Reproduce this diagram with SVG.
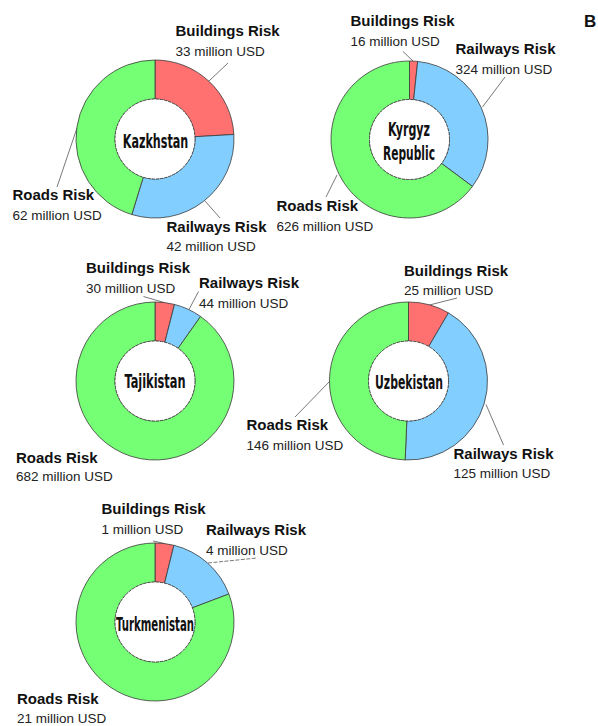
<svg xmlns="http://www.w3.org/2000/svg" width="598" height="726" viewBox="0 0 598 726">
<style>
.bg{fill:#ffffff}
.b{fill:#FF7070}
.r{fill:#82CFFF}
.g{fill:#74FF74}
.seg{stroke:#3a3a3a;stroke-width:0.8}
.hole{fill:#ffffff;stroke:#3a3a3a;stroke-width:0.8;stroke-dasharray:3 1.2}
.lead{stroke:#555;stroke-width:0.8;fill:none}
.lbl{font-family:"Liberation Sans",Arial,sans-serif;font-weight:bold;font-size:15px;fill:#111}
.val{font-family:"Liberation Sans",Arial,sans-serif;font-size:13.5px;fill:#222}
.cty{font-family:"Liberation Sans Narrow","DejaVu Sans Condensed","Liberation Sans",sans-serif;font-weight:bold;font-size:19px;fill:#111;text-anchor:middle}
</style>
<rect class="bg" x="0" y="0" width="598" height="726"/>
<text x="584" y="26.5" font-family="Liberation Sans, Arial, sans-serif" font-weight="bold" font-size="17" fill="#111">B</text>

<g id="connectors">
  <line class="lead" x1="209" y1="81" x2="228" y2="63"/>
  <line class="lead" x1="205" y1="201" x2="220" y2="218"/>
  <line class="lead" x1="77" y1="128" x2="57" y2="187"/>
  <line class="lead" x1="413.5" y1="61.5" x2="403" y2="51.5"/>
  <line class="lead" x1="482.5" y1="107" x2="505" y2="77"/>
  <line class="lead" x1="337" y1="175" x2="326" y2="197"/>
  <line class="lead" x1="164" y1="302.5" x2="143.5" y2="296.5"/>
  <line class="lead" x1="189" y1="309.5" x2="198.5" y2="291.5"/>
  <line class="lead" x1="429.5" y1="305" x2="457" y2="298"/>
  <line class="lead" x1="486" y1="404.5" x2="503.5" y2="445"/>
  <line class="lead" x1="330" y1="381" x2="295" y2="417"/>
  <line class="lead" x1="164.5" y1="543.5" x2="153" y2="541"/>
  <line class="lead" x1="208" y1="563" x2="257" y2="558" stroke-dasharray="4 1.5"/>
</g>

<g id="kazakhstan">
  <path class="b seg" d="M155,60 A79,79 0 0 1 233.87,134.48 L194.93,136.71 A40,40 0 0 0 155,99 Z"/>
  <path class="r seg" d="M233.87,134.48 A79,79 0 0 1 131.80,214.52 L143.25,177.24 A40,40 0 0 0 194.93,136.71 Z"/>
  <path class="g seg" d="M131.80,214.52 A79,79 0 0 1 155,60 L155,99 A40,40 0 0 0 143.25,177.24 Z"/>
  <circle class="hole" cx="155" cy="139" r="40"/>
  <text class="cty" x="155.5" y="147.5" textLength="65.5" lengthAdjust="spacingAndGlyphs">Kazkhstan</text>
  <text class="lbl" x="175.5" y="36">Buildings Risk</text>
  <text class="val" x="175.5" y="56">33 million USD</text>
  <text class="lbl" x="166.5" y="231.5">Railways Risk</text>
  <text class="val" x="166.5" y="250.5">42 million USD</text>
  <text class="lbl" x="12.5" y="200">Roads Risk</text>
  <text class="val" x="12.5" y="220">62 million USD</text>
</g>

<g id="kyrgyz">
  <path class="b seg" d="M409.5,61 A78.5,78.5 0 0 1 417.66,61.42 L413.66,99.72 A40,40 0 0 0 409.5,99.5 Z"/>
  <path class="r seg" d="M417.66,61.42 A78.5,78.5 0 0 1 472.43,186.43 L441.56,163.41 A40,40 0 0 0 413.66,99.72 Z"/>
  <path class="g seg" d="M472.43,186.43 A78.5,78.5 0 1 1 409.5,61 L409.5,99.5 A40,40 0 1 0 441.56,163.41 Z"/>
  <circle class="hole" cx="409.5" cy="139.5" r="40"/>
  <text class="cty" x="409" y="135.5" textLength="42" lengthAdjust="spacingAndGlyphs">Kyrgyz</text>
  <text class="cty" x="409" y="160" textLength="52" lengthAdjust="spacingAndGlyphs">Republic</text>
  <text class="lbl" x="350.5" y="25.5">Buildings Risk</text>
  <text class="val" x="350.5" y="45.5">16 million USD</text>
  <text class="lbl" x="455.5" y="53.5">Railways Risk</text>
  <text class="val" x="455.5" y="74">324 million USD</text>
  <text class="lbl" x="276.5" y="211">Roads Risk</text>
  <text class="val" x="276.5" y="230.5">626 million USD</text>
</g>

<g id="tajikistan">
  <path class="b seg" d="M155,302 A79,79 0 0 1 174.49,304.44 L164.87,342.24 A40,40 0 0 0 155,341 Z"/>
  <path class="r seg" d="M174.49,304.44 A79,79 0 0 1 200.58,316.48 L178.08,348.33 A40,40 0 0 0 164.87,342.24 Z"/>
  <path class="g seg" d="M200.58,316.48 A79,79 0 1 1 155,302 L155,341 A40,40 0 1 0 178.08,348.33 Z"/>
  <circle class="hole" cx="155" cy="381" r="40"/>
  <text class="cty" x="155" y="388" font-size="18" textLength="61" lengthAdjust="spacingAndGlyphs">Tajikistan</text>
  <text class="lbl" x="86" y="272.5">Buildings Risk</text>
  <text class="val" x="86" y="292.5">30 million USD</text>
  <text class="lbl" x="199" y="287.5">Railways Risk</text>
  <text class="val" x="199" y="307.5">44 million USD</text>
  <text class="lbl" x="16" y="463">Roads Risk</text>
  <text class="val" x="16" y="481">682 million USD</text>
</g>

<g id="uzbekistan">
  <path class="b seg" d="M408.5,302 A79,79 0 0 1 448.48,312.87 L428.74,346.50 A40,40 0 0 0 408.5,341 Z"/>
  <path class="r seg" d="M448.48,312.87 A79,79 0 0 1 405.15,459.93 L406.80,420.96 A40,40 0 0 0 428.74,346.50 Z"/>
  <path class="g seg" d="M405.15,459.93 A79,79 0 0 1 408.5,302 L408.5,341 A40,40 0 0 0 406.80,420.96 Z"/>
  <circle class="hole" cx="408.5" cy="381" r="40"/>
  <text class="cty" x="409" y="389" font-size="18" textLength="68" lengthAdjust="spacingAndGlyphs">Uzbekistan</text>
  <text class="lbl" x="404" y="275.5">Buildings Risk</text>
  <text class="val" x="404" y="295">25 million USD</text>
  <text class="lbl" x="453.5" y="458.5">Railways Risk</text>
  <text class="val" x="453.5" y="478">125 million USD</text>
  <text class="lbl" x="246.5" y="430">Roads Risk</text>
  <text class="val" x="246.5" y="450">146 million USD</text>
</g>

<g id="turkmenistan">
  <path class="b seg" d="M155,543 A79,79 0 0 1 173.91,545.30 L164.57,583.16 A40,40 0 0 0 155,582 Z"/>
  <path class="r seg" d="M173.91,545.30 A79,79 0 0 1 228.87,593.99 L192.40,607.82 A40,40 0 0 0 164.57,583.16 Z"/>
  <path class="g seg" d="M228.87,593.99 A79,79 0 1 1 155,543 L155,582 A40,40 0 1 0 192.40,607.82 Z"/>
  <circle class="hole" cx="155" cy="622" r="40"/>
  <text class="cty" x="155" y="630.5" font-size="17" textLength="78" lengthAdjust="spacingAndGlyphs">Turkmenistan</text>
  <text class="lbl" x="101.5" y="514">Buildings Risk</text>
  <text class="val" x="101.5" y="534">1 million USD</text>
  <text class="lbl" x="206" y="534.5">Railways Risk</text>
  <text class="val" x="206" y="554.5">4 million USD</text>
  <text class="lbl" x="17" y="703.5">Roads Risk</text>
  <text class="val" x="17" y="723">21 million USD</text>
</g>
</svg>
